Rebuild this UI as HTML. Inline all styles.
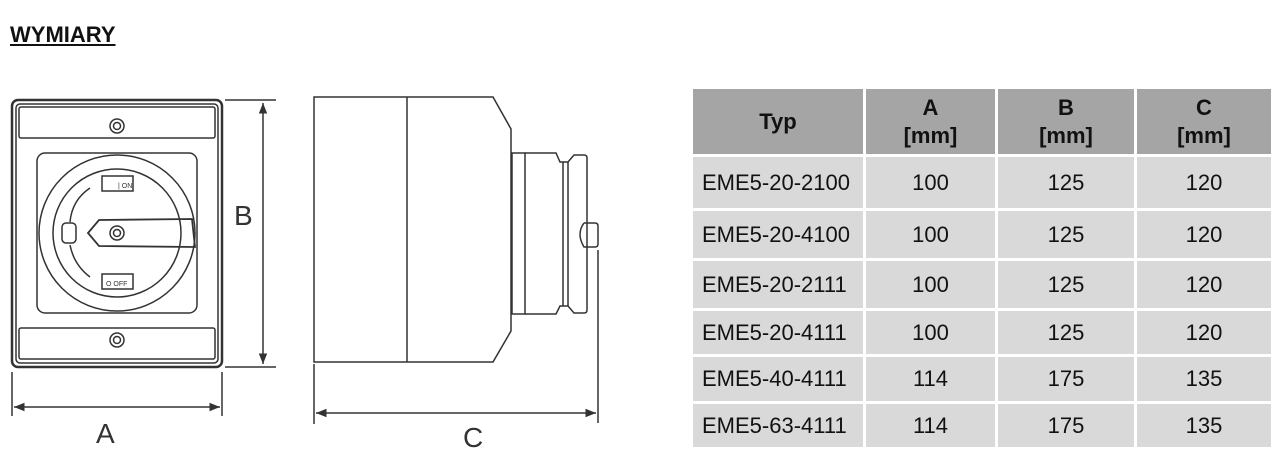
<!DOCTYPE html>
<html><head><meta charset="utf-8"><style>
body{margin:0;width:1283px;height:465px;background:#fff;overflow:hidden;position:relative;font-family:"Liberation Sans",sans-serif}
.t{position:absolute;left:10px;top:22px;font-weight:bold;font-size:22px;text-decoration:underline;color:#111}
.c{position:absolute;display:flex;align-items:center;justify-content:center;font-size:22px;color:#111;text-align:center;line-height:1.25}
.l{justify-content:flex-start;padding-left:9px;box-sizing:border-box}
.h{background:#a5a5a5;font-weight:bold}
.r{background:#d9d9d9}
</style></head><body>
<div class="t">WYMIARY</div>
<svg width="1283" height="465" style="position:absolute;left:0;top:0" fill="none" stroke="#333" stroke-width="1.5">
<defs><marker id="ar" viewBox="0 0 10 10" refX="10" refY="5" markerWidth="9" markerHeight="7" orient="auto-start-reverse"><path d="M0,1L10,5L0,9z" fill="#333" stroke="none"/></marker></defs>
<rect x="12" y="100" width="210" height="267" rx="6" stroke-width="2.5"/>
<rect x="16" y="104" width="202" height="259" rx="4"/>
<rect x="19" y="107" width="196" height="31" rx="2"/>
<rect x="19" y="328" width="196" height="31" rx="2"/>
<circle cx="117" cy="126" r="7"/><circle cx="117" cy="126" r="3.5"/>
<circle cx="117" cy="340" r="7"/><circle cx="117" cy="340" r="3.5"/>
<rect x="37" y="153" width="160" height="160" rx="8"/>
<circle cx="117" cy="233" r="78"/>
<circle cx="117" cy="233" r="64"/>
<path d="M88,233 L99,220 L192,219 L195,247 L99,246 Z" stroke-width="1.8"/>
<circle cx="117" cy="233" r="7"/><circle cx="117" cy="233" r="3.5"/>
<rect x="102" y="176" width="31" height="15"/>
<rect x="102" y="274" width="31" height="15"/>
<rect x="62" y="223" width="14" height="20" rx="4"/>
<path d="M90,188 Q72,200 70,222 M70,245 Q74,265 90,277"/>
<text x="118" y="188" font-size="7" fill="#333" stroke="none" font-family="Liberation Sans">| ON</text>
<text x="106" y="286" font-size="7" fill="#333" stroke="none" font-family="Liberation Sans">O OFF</text>
<path d="M225,100H276M225,367H276"/>
<path d="M263,103V364" marker-start="url(#ar)" marker-end="url(#ar)"/>
<path d="M12,372V416M222,372V416"/>
<path d="M14,407H220" marker-start="url(#ar)" marker-end="url(#ar)"/>
<path d="M314,97H493L511,129V331L493,362H314Z"/>
<path d="M407,97V362"/>
<rect x="512" y="153" width="13" height="161"/>
<path d="M525,153H556L560,162H568L574,155H584Q587,155 587,158V310Q587,313 584,313H574L568,306H560L556,314H525"/>
<path d="M563,162V306M568,162V306"/>
<path d="M584,223H595Q598,223 598,226V244Q598,247 595,247H584Q580,240 580,235Q580,228 584,223"/>
<path d="M314,364V424M598,250V423"/>
<path d="M316,413H596" marker-start="url(#ar)" marker-end="url(#ar)"/>
<g fill="#333" stroke="none" font-family="Liberation Sans" font-size="28">
<text x="234" y="225">B</text>
<text x="96" y="443">A</text>
<text x="463" y="447">C</text>
</g>
</svg>
<div class="c h" style="left:693px;top:89px;width:170px;height:65px">Typ</div>
<div class="c h" style="left:866px;top:89px;width:129px;height:65px">A<br>[mm]</div>
<div class="c h" style="left:998px;top:89px;width:136px;height:65px">B<br>[mm]</div>
<div class="c h" style="left:1137px;top:89px;width:134px;height:65px">C<br>[mm]</div>

<div class="c r l" style="left:693px;top:157px;width:170px;height:51px">EME5-20-2100</div>
<div class="c r" style="left:866px;top:157px;width:129px;height:51px">100</div>
<div class="c r" style="left:998px;top:157px;width:136px;height:51px">125</div>
<div class="c r" style="left:1137px;top:157px;width:134px;height:51px">120</div>

<div class="c r l" style="left:693px;top:211px;width:170px;height:47px">EME5-20-4100</div>
<div class="c r" style="left:866px;top:211px;width:129px;height:47px">100</div>
<div class="c r" style="left:998px;top:211px;width:136px;height:47px">125</div>
<div class="c r" style="left:1137px;top:211px;width:134px;height:47px">120</div>

<div class="c r l" style="left:693px;top:261px;width:170px;height:47px">EME5-20-2111</div>
<div class="c r" style="left:866px;top:261px;width:129px;height:47px">100</div>
<div class="c r" style="left:998px;top:261px;width:136px;height:47px">125</div>
<div class="c r" style="left:1137px;top:261px;width:134px;height:47px">120</div>

<div class="c r l" style="left:693px;top:311px;width:170px;height:43px">EME5-20-4111</div>
<div class="c r" style="left:866px;top:311px;width:129px;height:43px">100</div>
<div class="c r" style="left:998px;top:311px;width:136px;height:43px">125</div>
<div class="c r" style="left:1137px;top:311px;width:134px;height:43px">120</div>

<div class="c r l" style="left:693px;top:357px;width:170px;height:44px">EME5-40-4111</div>
<div class="c r" style="left:866px;top:357px;width:129px;height:44px">114</div>
<div class="c r" style="left:998px;top:357px;width:136px;height:44px">175</div>
<div class="c r" style="left:1137px;top:357px;width:134px;height:44px">135</div>

<div class="c r l" style="left:693px;top:404px;width:170px;height:43px">EME5-63-4111</div>
<div class="c r" style="left:866px;top:404px;width:129px;height:43px">114</div>
<div class="c r" style="left:998px;top:404px;width:136px;height:43px">175</div>
<div class="c r" style="left:1137px;top:404px;width:134px;height:43px">135</div>
</body></html>
